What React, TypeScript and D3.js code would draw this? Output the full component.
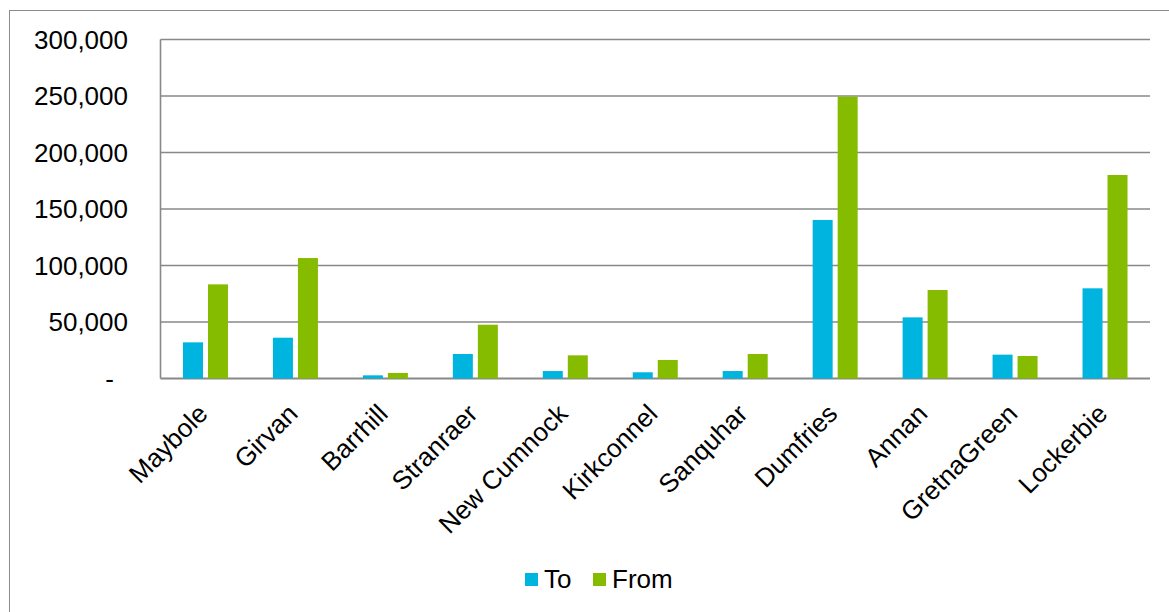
import React from "react";
import * as d3 from "d3";

const categories = ["Maybole", "Girvan", "Barrhill", "Stranraer", "New Cumnock", "Kirkconnel", "Sanquhar", "Dumfries", "Annan", "GretnaGreen", "Lockerbie"];
const toValues = [32000, 36100, 2800, 21700, 6600, 5500, 6600, 140300, 54100, 21100, 79800];
const fromValues = [83300, 106600, 4900, 47600, 20500, 16400, 21700, 249400, 78300, 19900, 180100];
const yTicks = [0, 50000, 100000, 150000, 200000, 250000, 300000];
const seriesNames = ["To", "From"];
const seriesColors = ["#00B4E0", "#85BC00"];

const W = 1169;
const H = 612;
const plot = { left: 160.5, right: 1150, top: 39.5, bottom: 378.5 };
const FONT = "'Liberation Sans', Arial, sans-serif";

export default function App() {
  const x = d3.scaleBand<string>().domain(categories).range([plot.left, plot.right]);
  const y = d3.scaleLinear().domain([0, 300000]).range([plot.bottom, plot.top]);
  const fmt = d3.format(",");
  const barW = 20;
  const series = [toValues, fromValues];
  const offsets = [-22.5, 2.5];

  return (
    <svg width={W} height={H} style={{ position: "absolute", left: 0, top: 0, background: "#fff" }} fontFamily={FONT}>
      <rect x={9.5} y={10.5} width={1200} height={700} fill="#fff" stroke="#8c8c8c" strokeWidth={1} />
      {yTicks.map((t) => (
        <line key={"g" + t} x1={plot.left} x2={plot.right} y1={y(t)} y2={y(t)} stroke="#888" strokeWidth={t === 0 ? 2 : 1.6} />
      ))}
      <line x1={plot.left} x2={plot.left} y1={plot.top} y2={plot.bottom} stroke="#888" strokeWidth={1.6} />
      {yTicks.map((t) => (
        <text key={"t" + t} x={t === 0 ? 114 : 128} y={y(t)} dy="0.36em" textAnchor="end" fontSize={26} fill="#000">
          {t === 0 ? "-" : fmt(t)}
        </text>
      ))}
      {series.map((vals, si) =>
        vals.map((v, i) => {
          const cx = (x(categories[i]) as number) + x.bandwidth() / 2;
          return (
            <rect key={si + "-" + i} x={cx + offsets[si]} y={y(v)} width={barW} height={plot.bottom - y(v)} fill={seriesColors[si]} />
          );
        })
      )}
      {categories.map((c) => {
        const cx = (x(c) as number) + x.bandwidth() / 2;
        const ax = cx - 9;
        const ay = plot.bottom + 24;
        return (
          <text key={"c" + c} x={ax} y={ay} textAnchor="end" fontSize={26} fill="#000" transform={`rotate(-45 ${ax} ${ay})`} dy="0.7em">
            {c}
          </text>
        );
      })}
      <g>
        <rect x={525} y={573} width={13} height={13} fill={seriesColors[0]} />
        <text x={544} y={588} fontSize={26} fill="#000">{seriesNames[0]}</text>
        <rect x={593} y={573} width={13} height={13} fill={seriesColors[1]} />
        <text x={612} y={588} fontSize={26} fill="#000">{seriesNames[1]}</text>
      </g>
    </svg>
  );
}
